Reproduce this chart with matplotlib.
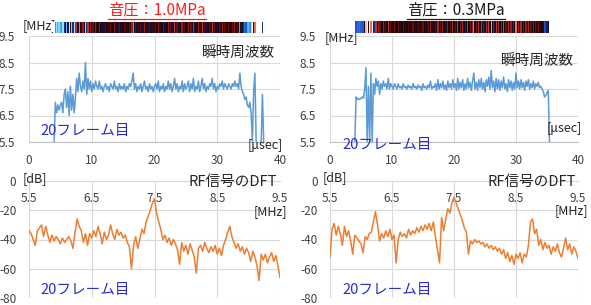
import numpy as np
import matplotlib.pyplot as plt
from matplotlib.colors import LinearSegmentedColormap, Normalize
from matplotlib.lines import Line2D

plt.rcParams['font.family'] = ['Noto Sans CJK JP', 'DejaVu Sans']
plt.rcParams['axes.unicode_minus'] = False

# instantaneous frequency (MHz), sampled every 0.2 usec from 4.0 usec
t_step = 0.2
freq_10 = [5.5, 7.0, 6.6, 6.9, 6.7, 6.9, 7.0, 6.6, 7.3, 7.5,
           6.8, 7.4, 6.5, 7.6, 6.7, 7.3, 6.6, 7.2, 7.9, 7.4,
           8.1, 7.6, 7.4, 7.8, 7.5, 8.5, 7.3, 7.9, 7.5, 7.8,
           7.4, 7.7, 7.5, 7.8, 7.6, 7.5, 7.8, 7.5, 7.6, 7.4,
           7.6, 7.7, 7.5, 7.6, 7.4, 7.7, 7.6, 7.5, 7.8, 7.5,
           7.6, 7.4, 7.7, 7.5, 7.6, 7.5, 7.7, 7.4, 7.6, 7.5,
           7.7, 7.6, 7.8, 8.1, 7.5, 7.7, 7.4, 7.6, 7.5, 7.7,
           7.4, 7.6, 7.8, 7.5, 7.6, 7.4, 7.7, 7.5, 7.6, 7.4,
           7.6, 7.7, 7.5, 7.8, 7.4, 7.6, 7.5, 7.7, 7.4, 7.6,
           7.5, 7.8, 7.5, 7.7, 7.4, 7.6, 7.9, 7.5, 7.7, 7.4,
           7.6, 7.5, 7.8, 7.4, 7.7, 7.5, 7.6, 7.8, 7.4, 7.7,
           7.5, 7.9, 7.4, 7.6, 7.5, 7.8, 7.4, 7.6, 7.9, 7.5,
           7.7, 7.4, 7.6, 7.5, 7.7, 7.6, 7.9, 7.5, 7.7, 7.4,
           7.6, 7.5, 7.7, 7.6, 7.8, 7.5, 7.7, 7.6, 7.5, 7.7,
           7.6, 7.5, 7.7, 7.6, 7.8, 7.6, 7.7, 7.5, 8.1, 7.6,
           7.4, 7.3, 7.1, 7.2, 6.9, 6.8, 7.0, 6.6, 5.5, 7.4,
           8.1, 5.5, np.nan, np.nan, np.nan, 5.5, 7.3, 5.5]
freq_03 = [5.5, 7.2, 7.1, 7.15, 7.1, 7.15, 7.2, 7.15, 7.5, 8.3,
           5.5, 7.6, 5.5, 8.1, 5.5, 7.7, 7.3, 7.9, 7.6, 7.8,
           7.3, 7.7, 7.5, 7.8, 7.6, 7.7, 7.5, 7.9, 7.5, 7.7,
           7.6, 7.5, 7.7, 7.6, 7.5, 7.7, 7.55, 7.6, 7.5, 7.7,
           7.55, 7.6, 7.5, 7.65, 7.55, 7.6, 7.5, 7.7, 7.55, 7.6,
           7.5, 7.65, 7.55, 7.6, 7.45, 7.7, 7.55, 7.6, 7.5, 7.65,
           7.55, 7.8, 7.5, 7.6, 7.55, 7.7, 7.45, 7.85, 7.5, 7.7,
           7.55, 7.8, 7.5, 7.65, 7.45, 7.8, 7.55, 7.7, 7.5, 7.85,
           7.55, 7.7, 7.45, 7.9, 7.5, 7.75, 7.55, 7.85, 7.45, 7.7,
           7.5, 7.9, 7.55, 7.75, 7.45, 7.8, 8.1, 7.5, 7.75, 7.45,
           7.85, 7.55, 7.9, 7.5, 7.75, 7.4, 7.85, 7.6, 7.95, 7.5,
           8.2, 7.55, 7.8, 7.4, 7.9, 7.5, 7.85, 7.45, 7.8, 7.55,
           7.95, 7.5, 7.7, 7.4, 7.85, 7.55, 7.8, 7.45, 7.75, 7.5,
           8.1, 7.55, 7.8, 7.5, 7.85, 7.55, 7.75, 7.45, 7.8, 7.6,
           7.85, 7.5, 7.7, 7.55, 7.8, 7.5, 7.7, 7.6, 7.75, 7.55,
           7.6, 7.5, 7.4, 7.2, 7.25, 7.35, 7.45, 5.5]
t_10 = 4.0 + t_step * np.arange(len(freq_10))
t_03 = 4.0 + t_step * np.arange(len(freq_03))

# DFT of the RF signal (dB), 121 bins between 5.5 and 9.5 MHz
dft_freq = np.linspace(5.5, 9.5, 121)
dft_10 = [-34, -36, -40, -44, -34, -32, -30, -38, -31, -37,
          -42, -37, -41, -38, -40, -43, -39, -42, -40, -38,
          -41, -46, -35, -26, -31, -34, -42, -36, -44, -36,
          -39, -34, -38, -31, -36, -43, -35, -40, -37, -30,
          -36, -40, -33, -37, -35, -39, -37, -42, -45, -60,
          -44, -38, -46, -40, -33, -36, -28, -24, -20, -15,
          -12, -22, -28, -33, -40, -37, -42, -39, -44, -40,
          -43, -47, -57, -42, -48, -44, -50, -43, -47, -52,
          -63, -46, -44, -48, -42, -46, -49, -45, -48, -44,
          -50, -46, -51, -44, -40, -35, -31, -38, -42, -46,
          -43, -48, -45, -50, -46, -49, -55, -48, -52, -58,
          -68, -50, -54, -50, -56, -52, -49, -55, -51, -58, -66]
dft_03 = [-52, -33, -29, -37, -31, -36, -44, -31, -38, -34,
          -41, -50, -37, -39, -41, -43, -49, -38, -40, -36,
          -35, -28, -21, -30, -41, -36, -39, -34, -38, -33,
          -40, -37, -56, -40, -35, -38, -36, -39, -33, -37,
          -34, -36, -32, -35, -31, -34, -30, -33, -29, -34,
          -28, -38, -47, -56, -25, -34, -26, -19, -22, -15,
          -11, -15, -19, -23, -27, -32, -35, -50, -41, -43,
          -40, -42, -41, -43, -42, -45, -43, -46, -44, -47,
          -45, -48, -46, -50, -47, -53, -49, -55, -51, -57,
          -50, -53, -49, -56, -50, -52, -44, -28, -26, -36,
          -33, -44, -40, -47, -42, -46, -44, -50, -45, -48,
          -43, -49, -52, -46, -39, -47, -43, -50, -45, -48, -53]

W, H = 591, 305
grid_c = '#d9d9d9'
tick_c = '#404040'
label_c = '#262626'
frame_c = '#2b2bd6'

strip_cmap = LinearSegmentedColormap.from_list('strip', [
    (0.00, '#b8ecff'), (0.22, '#3fb8f0'), (0.39, '#1f4fd0'),
    (0.50, '#141040'), (0.58, '#1a0505'), (0.69, '#7a1212'),
    (0.83, '#e04a3a'), (1.00, '#ffb4a0')])
strip_cmap.set_under('white')
strip_norm = Normalize(6.5, 8.3)


def rect(l, t, r, b):
    return [l / W, 1 - b / H, (r - l) / W, (b - t) / H]


def freq_panel(box, sbox, t, f, texts):
    ax = fig.add_axes(box)
    ax.plot(t, f, color='#5b9bd5', lw=1.1)
    ax.set_xlim(0, 40)
    ax.set_ylim(5.5, 9.5)
    ax.set_xticks([0, 10, 20, 30, 40])
    ax.set_yticks([5.5, 6.5, 7.5, 8.5, 9.5])
    ax.grid(color=grid_c, lw=0.8)
    ax.set_axisbelow(True)
    for s in ['top', 'left', 'right']:
        ax.spines[s].set_visible(False)
    ax.spines['bottom'].set_color('#bfbfbf')
    ax.tick_params(length=0, labelsize=8.5, colors=tick_c)
    ax.tick_params(axis='x', pad=9)
    ax.tick_params(axis='y', pad=10)
    for x, y, s, ha, c in texts:
        ax.text(x, y, s, transform=ax.transAxes, ha=ha, va='center',
                fontsize=10.5 if c != 'u' else 9, color=frame_c if c == 'b' else label_c)
    # colour strip of the same frequency trace
    axs = fig.add_axes(sbox)
    axs.set_xlim(0, 40)
    axs.set_ylim(0, 1)
    axs.axis('off')
    ok = ~np.isnan(f)
    axs.bar(t[ok], 1, width=t_step, align='center', linewidth=0,
            color=strip_cmap(strip_norm(np.asarray(f)[ok])))
    return ax


def dft_panel(box, d, texts):
    ax = fig.add_axes(box)
    ax.plot(dft_freq, d, color='#ed7d31', lw=1.1)
    ax.set_xlim(5.5, 9.5)
    ax.set_ylim(-80, 0)
    ax.set_xticks([5.5, 6.5, 7.5, 8.5, 9.5])
    ax.set_yticks([-80, -60, -40, -20, 0])
    ax.grid(color=grid_c, lw=0.8)
    ax.set_axisbelow(True)
    for s in ['top', 'left', 'right']:
        ax.spines[s].set_visible(False)
    ax.spines['bottom'].set_position(('data', 0))
    ax.spines['bottom'].set_color(grid_c)
    ax.tick_params(length=0, labelsize=8.5, colors=tick_c)
    ax.tick_params(axis='x', pad=8)
    ax.tick_params(axis='y', pad=9)
    for x, y, s, ha, c in texts:
        ax.text(x, y, s, transform=ax.transAxes, ha=ha, va='center',
                fontsize=10.5 if c != 'u' else 9, color=frame_c if c == 'b' else label_c)
    return ax


fig = plt.figure(figsize=(W / 100, H / 100), dpi=100)

freq_panel(rect(29, 36, 280, 142), rect(29, 22, 280, 33), t_10, freq_10, [
    (-0.024, 1.10, '[MHz]', 'left', 'u'),
    (0.98, 0.83, '瞬時周波数', 'right', 'k'),
    (0.044, 0.10, '20フレーム目', 'left', 'b'),
    (1.01, -0.03, '[μsec]', 'right', 'u')])
freq_panel(rect(330, 36, 578, 142), rect(330, 21, 578, 33), t_03, freq_03, [
    (-0.02, 0.99, '[MHz]', 'left', 'u'),
    (0.984, 0.76, '瞬時周波数', 'right', 'k'),
    (0.052, -0.03, '20フレーム目', 'left', 'b'),
    (1.015, 0.13, '[μsec]', 'right', 'u')])
dft_panel(rect(29, 181, 280, 298), dft_10, [
    (-0.024, 1.025, '[dB]', 'left', 'u'),
    (0.988, 0.99, 'RF信号のDFT', 'right', 'k'),
    (1.03, 0.74, '[MHz]', 'right', 'u'),
    (0.044, 0.07, '20フレーム目', 'left', 'b')])
dft_panel(rect(330, 181, 578, 298), dft_03, [
    (-0.03, 1.03, '[dB]', 'left', 'u'),
    (0.99, 0.99, 'RF信号のDFT', 'right', 'k'),
    (1.04, 0.75, '[MHz]', 'right', 'u'),
    (0.052, 0.07, '20フレーム目', 'left', 'b')])

titles = [fig.text(157 / W, 1 - 10 / H, '音圧：1.0MPa', ha='center', va='center',
                   fontsize=11, color='#ff1a1a'),
          fig.text(456 / W, 1 - 10 / H, '音圧：0.3MPa', ha='center', va='center',
                   fontsize=11, color='#1a1a1a')]

# underline the titles
fig.canvas.draw()
inv = fig.transFigure.inverted()
for tx in titles:
    bb = tx.get_window_extent()
    (x0, y0), (x1, _) = inv.transform([(bb.x0, bb.y0), (bb.x1, bb.y0)])
    fig.add_artist(Line2D([x0, x1], [y0, y0], transform=fig.transFigure,
                          color=tx.get_color(), lw=0.9))

fig.savefig('out.png', dpi=100)
